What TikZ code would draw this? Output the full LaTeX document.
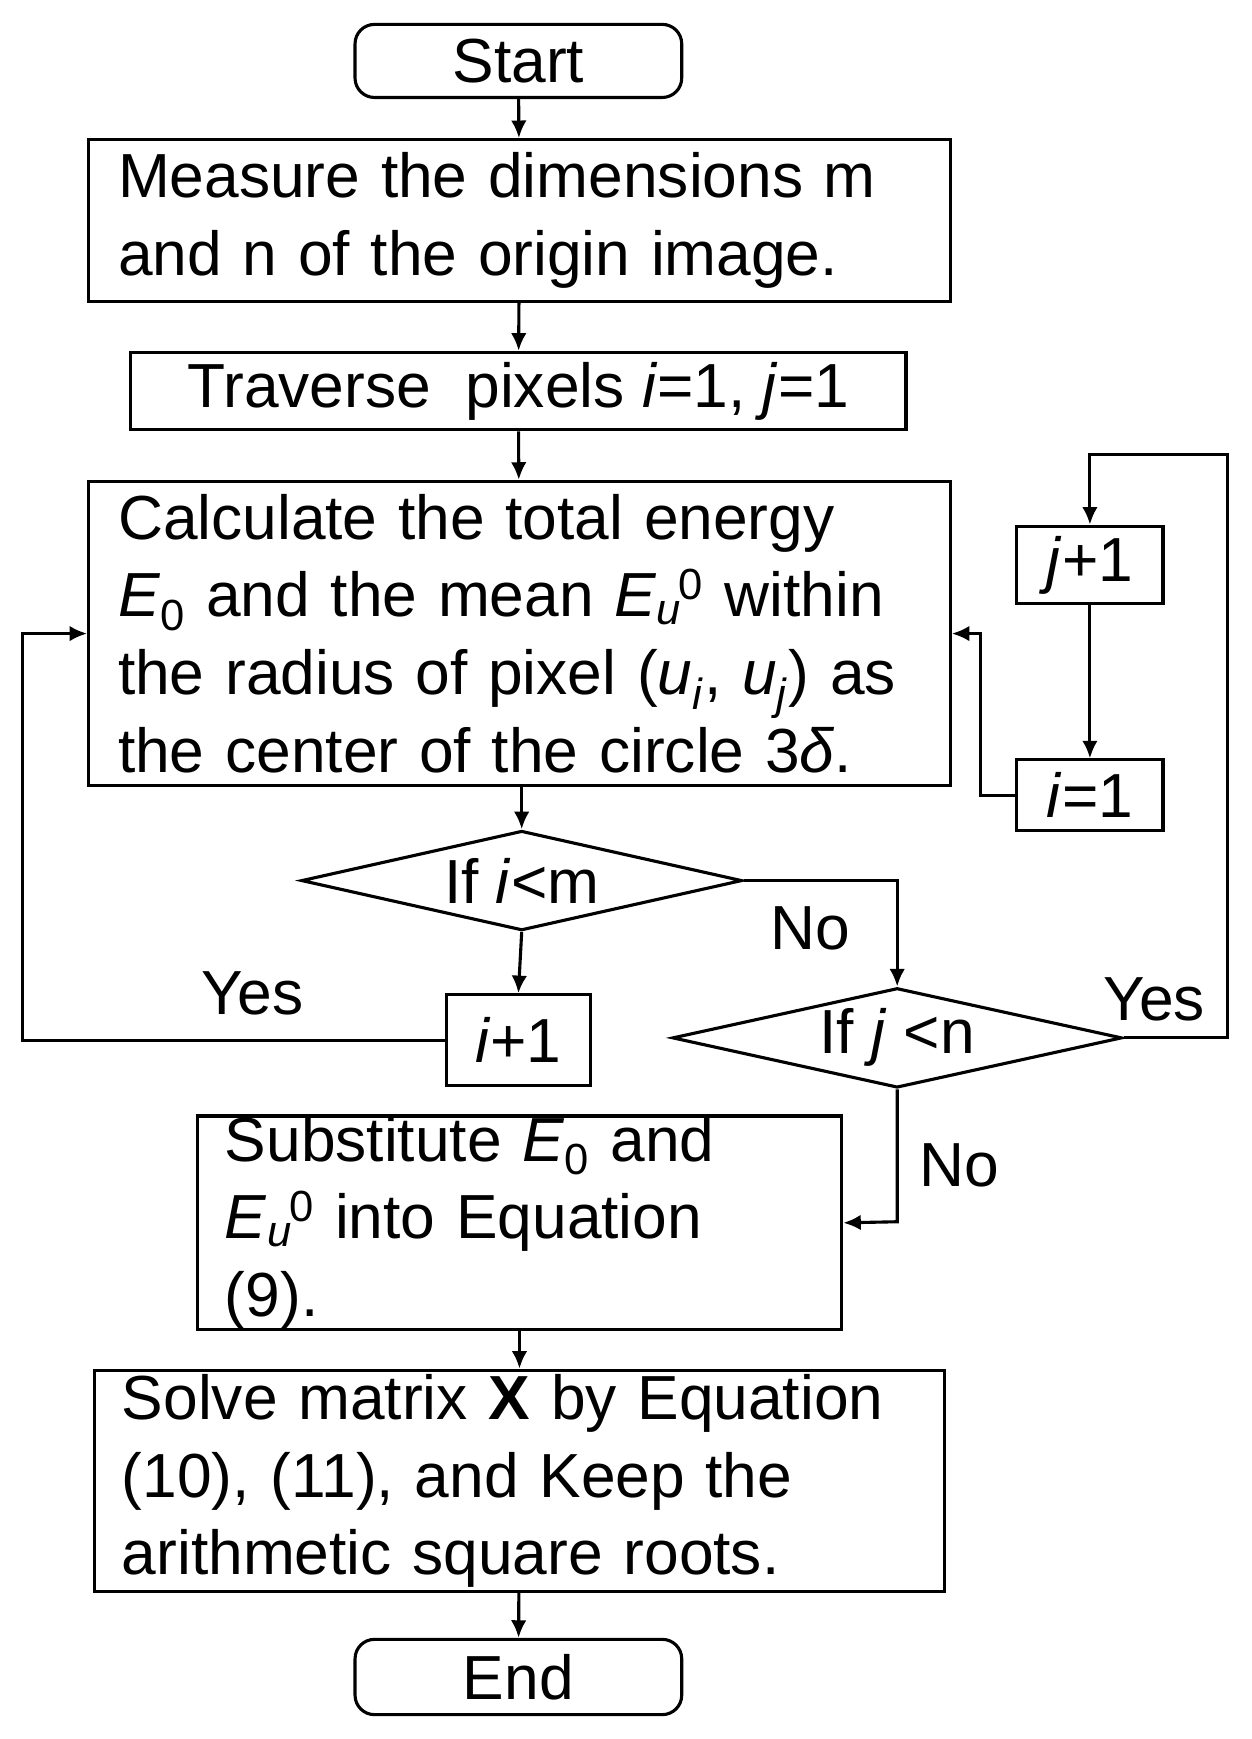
\documentclass[tikz,border=0pt]{standalone}
\usepackage{fontspec}
\setmainfont{Liberation Sans}
\usetikzlibrary{shapes.geometric,arrows.meta}
\newcommand{\Eu}{\textit{E}\textsubscript{\textit{u}}\kern-0.05em\textsuperscript{0}}
\newcommand{\Ez}{\textit{E}\textsubscript{0}}
\newcommand{\fl}[2]{\makebox[#1][s]{#2}}
\begin{document}
\begin{tikzpicture}[x=0.02cm,y=-0.02cm,
 every node/.style={font=\fontsize{32}{40}\selectfont},
 box/.style={draw,line width=1.6pt,inner sep=0pt},
 jbox/.style={box,align=left},
 term/.style={box,rounded corners=10pt},
 dia/.style={draw,line width=1.6pt,diamond,aspect=4.4,inner sep=0pt},
 line/.style={line width=1.6pt},
 arr/.style={line,-{Latex[length=9pt,width=8pt]}},
 lab/.style={inner sep=0pt}]
\useasboundingbox (0,0) rectangle (1130,1570);
\node[term,minimum width=5.9cm,minimum height=1.32cm] (start) at (468,55) {Start};
\node[box,minimum width=15.56cm,minimum height=2.92cm,text width=14.5cm,align=left] (meas) at (469,199) {\fl{14.5cm}{Measure the dimensions m}\\and n of the origin image.};
\node[box,minimum width=14cm,minimum height=1.4cm] (trav) at (468,353) {Traverse\ \ pixels \textit{i}=1, \textit{j}=1};
\node[jbox,minimum width=15.56cm,minimum height=5.5cm,text width=14.5cm] (calc) at (469,572) {\fl{14.5cm}{Calculate the total energy}\\\fl{14.5cm}{\Ez{} and the mean \Eu{} within}\\\fl{14.5cm}{the radius of pixel (\textit{u}\textsubscript{\textit{i}}, \textit{u}\textsubscript{\textit{j}}) as}\\the center of the circle 3\textit{δ}.};
\node[box,minimum width=2.64cm,minimum height=1.4cm] (jp) at (984,510) {\textit{j}+1};
\node[box,minimum width=2.64cm,minimum height=1.28cm] (ione) at (984,718) {\textit{i}=1};
\node[dia,minimum width=7.96cm,minimum height=1.8cm] (d1) at (471,795) {If \textit{i}<m};
\node[box,minimum width=2.6cm,minimum height=1.64cm] (ip) at (468,939) {\textit{i}+1};
\node[dia,minimum width=8.12cm,minimum height=1.8cm] (d2) at (810,937) {If \textit{j} <n};
\node[jbox,minimum width=11.64cm,minimum height=3.16cm,text width=10.64cm] (sub) at (469,1104) {\fl{10.64cm}{Substitute \Ez{} and}\\\Eu{} into Equation (9).};
\node[jbox,minimum width=15.36cm,minimum height=4cm,text width=14.36cm] (solve) at (469,1337) {\fl{14.36cm}{Solve matrix \textbf{X} by Equation}\\\fl{14.36cm}{(10), (11), and Keep the}\\arithmetic square roots.};
\node[term,minimum width=5.9cm,minimum height=1.36cm] (end) at (468,1514) {End};
\coordinate (c1) at (20,939); \coordinate (c2) at (20,572);
\coordinate (c3) at (1108,937); \coordinate (c4) at (1108,410); \coordinate (c5) at (984,410);
\coordinate (c6) at (885,718); \coordinate (c7) at (885,572);
\coordinate (c8) at (810,795); \coordinate (c9) at (810,1103);
\draw[arr] (start) -- (meas);
\draw[arr] (meas) -- (trav);
\draw[arr] (trav) -- (calc);
\draw[arr] (calc.south -| d1.north) -- (d1.north);
\draw[arr] (d1.south) -- (ip.north);
\draw[arr] (ip.west) -- (c1) -- (c2) -- (calc.west);
\draw[arr] (d1.east) -- (c8) -- (d2.north);
\draw[arr] (d2.east) -- (c3) -- (c4) -- (c5) -- (jp.north);
\draw[arr] (jp) -- (ione);
\draw[arr] (ione.west) -- (c6) -- (c7) -- (calc.east);
\draw[arr] (d2.south) -- (c9) -- (sub.east);
\draw[arr] (sub) -- (solve);
\draw[arr] (solve) -- (end);
\node[lab] (y1) at (228,897) {Yes};
\node[lab] (n1) at (732,838) {No};
\node[lab] (y2) at (1042,902) {Yes};
\node[lab] (n2) at (866,1052) {No};
\end{tikzpicture}
\end{document}
